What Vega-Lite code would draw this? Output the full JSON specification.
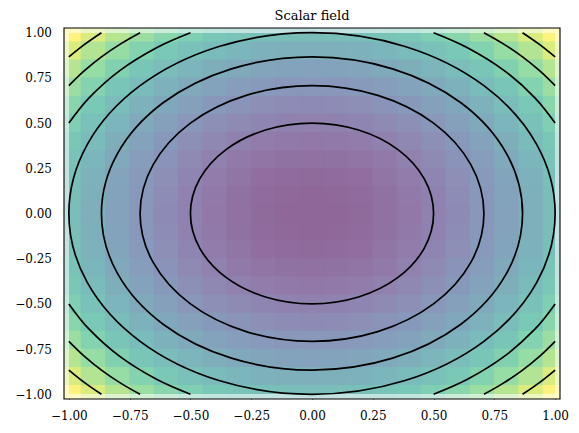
{
"$schema":"https://vega.github.io/schema/vega-lite/v6.json",
"autosize":{"type":"none"},
"padding":{"left":64,"top":28,"right":19,"bottom":34},
"width":496,"height":371,
"title":{"text":"Scalar field","font":"DejaVu Serif","fontSize":13,"fontWeight":"normal","color":"black","offset":3.5},
"config":{"view":{"stroke":null},
"axis":{"labelFont":"DejaVu Serif","labelFontSize":12,"labelColor":"black","tickColor":"black","domain":false,"grid":false,"labelFlush":false,"tickSize":-4,"title":null,"zindex":1},
"axisX":{"labelPadding":15.5},"axisY":{"labelPadding":16.5}},
"datasets":{
"grid":[
{"x":-1,"y":1,"v":2},{"x":-0.9,"y":1,"v":1.81},{"x":-0.8,"y":1,"v":1.64},{"x":-0.7,"y":1,"v":1.49},{"x":-0.6,"y":1,"v":1.36},{"x":-0.5,"y":1,"v":1.25},{"x":-0.4,"y":1,"v":1.16},{"x":-0.3,"y":1,"v":1.09},{"x":-0.2,"y":1,"v":1.04},{"x":-0.1,"y":1,"v":1.01},{"x":0,"y":1,"v":1},{"x":0.1,"y":1,"v":1.01},{"x":0.2,"y":1,"v":1.04},{"x":0.3,"y":1,"v":1.09},{"x":0.4,"y":1,"v":1.16},{"x":0.5,"y":1,"v":1.25},{"x":0.6,"y":1,"v":1.36},{"x":0.7,"y":1,"v":1.49},{"x":0.8,"y":1,"v":1.64},{"x":0.9,"y":1,"v":1.81},{"x":1,"y":1,"v":2},
{"x":-1,"y":0.9,"v":1.81},{"x":-0.9,"y":0.9,"v":1.62},{"x":-0.8,"y":0.9,"v":1.45},{"x":-0.7,"y":0.9,"v":1.3},{"x":-0.6,"y":0.9,"v":1.17},{"x":-0.5,"y":0.9,"v":1.06},{"x":-0.4,"y":0.9,"v":0.97},{"x":-0.3,"y":0.9,"v":0.9},{"x":-0.2,"y":0.9,"v":0.85},{"x":-0.1,"y":0.9,"v":0.82},{"x":0,"y":0.9,"v":0.81},{"x":0.1,"y":0.9,"v":0.82},{"x":0.2,"y":0.9,"v":0.85},{"x":0.3,"y":0.9,"v":0.9},{"x":0.4,"y":0.9,"v":0.97},{"x":0.5,"y":0.9,"v":1.06},{"x":0.6,"y":0.9,"v":1.17},{"x":0.7,"y":0.9,"v":1.3},{"x":0.8,"y":0.9,"v":1.45},{"x":0.9,"y":0.9,"v":1.62},{"x":1,"y":0.9,"v":1.81},
{"x":-1,"y":0.8,"v":1.64},{"x":-0.9,"y":0.8,"v":1.45},{"x":-0.8,"y":0.8,"v":1.28},{"x":-0.7,"y":0.8,"v":1.13},{"x":-0.6,"y":0.8,"v":1},{"x":-0.5,"y":0.8,"v":0.89},{"x":-0.4,"y":0.8,"v":0.8},{"x":-0.3,"y":0.8,"v":0.73},{"x":-0.2,"y":0.8,"v":0.68},{"x":-0.1,"y":0.8,"v":0.65},{"x":0,"y":0.8,"v":0.64},{"x":0.1,"y":0.8,"v":0.65},{"x":0.2,"y":0.8,"v":0.68},{"x":0.3,"y":0.8,"v":0.73},{"x":0.4,"y":0.8,"v":0.8},{"x":0.5,"y":0.8,"v":0.89},{"x":0.6,"y":0.8,"v":1},{"x":0.7,"y":0.8,"v":1.13},{"x":0.8,"y":0.8,"v":1.28},{"x":0.9,"y":0.8,"v":1.45},{"x":1,"y":0.8,"v":1.64},
{"x":-1,"y":0.7,"v":1.49},{"x":-0.9,"y":0.7,"v":1.3},{"x":-0.8,"y":0.7,"v":1.13},{"x":-0.7,"y":0.7,"v":0.98},{"x":-0.6,"y":0.7,"v":0.85},{"x":-0.5,"y":0.7,"v":0.74},{"x":-0.4,"y":0.7,"v":0.65},{"x":-0.3,"y":0.7,"v":0.58},{"x":-0.2,"y":0.7,"v":0.53},{"x":-0.1,"y":0.7,"v":0.5},{"x":0,"y":0.7,"v":0.49},{"x":0.1,"y":0.7,"v":0.5},{"x":0.2,"y":0.7,"v":0.53},{"x":0.3,"y":0.7,"v":0.58},{"x":0.4,"y":0.7,"v":0.65},{"x":0.5,"y":0.7,"v":0.74},{"x":0.6,"y":0.7,"v":0.85},{"x":0.7,"y":0.7,"v":0.98},{"x":0.8,"y":0.7,"v":1.13},{"x":0.9,"y":0.7,"v":1.3},{"x":1,"y":0.7,"v":1.49},
{"x":-1,"y":0.6,"v":1.36},{"x":-0.9,"y":0.6,"v":1.17},{"x":-0.8,"y":0.6,"v":1},{"x":-0.7,"y":0.6,"v":0.85},{"x":-0.6,"y":0.6,"v":0.72},{"x":-0.5,"y":0.6,"v":0.61},{"x":-0.4,"y":0.6,"v":0.52},{"x":-0.3,"y":0.6,"v":0.45},{"x":-0.2,"y":0.6,"v":0.4},{"x":-0.1,"y":0.6,"v":0.37},{"x":0,"y":0.6,"v":0.36},{"x":0.1,"y":0.6,"v":0.37},{"x":0.2,"y":0.6,"v":0.4},{"x":0.3,"y":0.6,"v":0.45},{"x":0.4,"y":0.6,"v":0.52},{"x":0.5,"y":0.6,"v":0.61},{"x":0.6,"y":0.6,"v":0.72},{"x":0.7,"y":0.6,"v":0.85},{"x":0.8,"y":0.6,"v":1},{"x":0.9,"y":0.6,"v":1.17},{"x":1,"y":0.6,"v":1.36},
{"x":-1,"y":0.5,"v":1.25},{"x":-0.9,"y":0.5,"v":1.06},{"x":-0.8,"y":0.5,"v":0.89},{"x":-0.7,"y":0.5,"v":0.74},{"x":-0.6,"y":0.5,"v":0.61},{"x":-0.5,"y":0.5,"v":0.5},{"x":-0.4,"y":0.5,"v":0.41},{"x":-0.3,"y":0.5,"v":0.34},{"x":-0.2,"y":0.5,"v":0.29},{"x":-0.1,"y":0.5,"v":0.26},{"x":0,"y":0.5,"v":0.25},{"x":0.1,"y":0.5,"v":0.26},{"x":0.2,"y":0.5,"v":0.29},{"x":0.3,"y":0.5,"v":0.34},{"x":0.4,"y":0.5,"v":0.41},{"x":0.5,"y":0.5,"v":0.5},{"x":0.6,"y":0.5,"v":0.61},{"x":0.7,"y":0.5,"v":0.74},{"x":0.8,"y":0.5,"v":0.89},{"x":0.9,"y":0.5,"v":1.06},{"x":1,"y":0.5,"v":1.25},
{"x":-1,"y":0.4,"v":1.16},{"x":-0.9,"y":0.4,"v":0.97},{"x":-0.8,"y":0.4,"v":0.8},{"x":-0.7,"y":0.4,"v":0.65},{"x":-0.6,"y":0.4,"v":0.52},{"x":-0.5,"y":0.4,"v":0.41},{"x":-0.4,"y":0.4,"v":0.32},{"x":-0.3,"y":0.4,"v":0.25},{"x":-0.2,"y":0.4,"v":0.2},{"x":-0.1,"y":0.4,"v":0.17},{"x":0,"y":0.4,"v":0.16},{"x":0.1,"y":0.4,"v":0.17},{"x":0.2,"y":0.4,"v":0.2},{"x":0.3,"y":0.4,"v":0.25},{"x":0.4,"y":0.4,"v":0.32},{"x":0.5,"y":0.4,"v":0.41},{"x":0.6,"y":0.4,"v":0.52},{"x":0.7,"y":0.4,"v":0.65},{"x":0.8,"y":0.4,"v":0.8},{"x":0.9,"y":0.4,"v":0.97},{"x":1,"y":0.4,"v":1.16},
{"x":-1,"y":0.3,"v":1.09},{"x":-0.9,"y":0.3,"v":0.9},{"x":-0.8,"y":0.3,"v":0.73},{"x":-0.7,"y":0.3,"v":0.58},{"x":-0.6,"y":0.3,"v":0.45},{"x":-0.5,"y":0.3,"v":0.34},{"x":-0.4,"y":0.3,"v":0.25},{"x":-0.3,"y":0.3,"v":0.18},{"x":-0.2,"y":0.3,"v":0.13},{"x":-0.1,"y":0.3,"v":0.1},{"x":0,"y":0.3,"v":0.09},{"x":0.1,"y":0.3,"v":0.1},{"x":0.2,"y":0.3,"v":0.13},{"x":0.3,"y":0.3,"v":0.18},{"x":0.4,"y":0.3,"v":0.25},{"x":0.5,"y":0.3,"v":0.34},{"x":0.6,"y":0.3,"v":0.45},{"x":0.7,"y":0.3,"v":0.58},{"x":0.8,"y":0.3,"v":0.73},{"x":0.9,"y":0.3,"v":0.9},{"x":1,"y":0.3,"v":1.09},
{"x":-1,"y":0.2,"v":1.04},{"x":-0.9,"y":0.2,"v":0.85},{"x":-0.8,"y":0.2,"v":0.68},{"x":-0.7,"y":0.2,"v":0.53},{"x":-0.6,"y":0.2,"v":0.4},{"x":-0.5,"y":0.2,"v":0.29},{"x":-0.4,"y":0.2,"v":0.2},{"x":-0.3,"y":0.2,"v":0.13},{"x":-0.2,"y":0.2,"v":0.08},{"x":-0.1,"y":0.2,"v":0.05},{"x":0,"y":0.2,"v":0.04},{"x":0.1,"y":0.2,"v":0.05},{"x":0.2,"y":0.2,"v":0.08},{"x":0.3,"y":0.2,"v":0.13},{"x":0.4,"y":0.2,"v":0.2},{"x":0.5,"y":0.2,"v":0.29},{"x":0.6,"y":0.2,"v":0.4},{"x":0.7,"y":0.2,"v":0.53},{"x":0.8,"y":0.2,"v":0.68},{"x":0.9,"y":0.2,"v":0.85},{"x":1,"y":0.2,"v":1.04},
{"x":-1,"y":0.1,"v":1.01},{"x":-0.9,"y":0.1,"v":0.82},{"x":-0.8,"y":0.1,"v":0.65},{"x":-0.7,"y":0.1,"v":0.5},{"x":-0.6,"y":0.1,"v":0.37},{"x":-0.5,"y":0.1,"v":0.26},{"x":-0.4,"y":0.1,"v":0.17},{"x":-0.3,"y":0.1,"v":0.1},{"x":-0.2,"y":0.1,"v":0.05},{"x":-0.1,"y":0.1,"v":0.02},{"x":0,"y":0.1,"v":0.01},{"x":0.1,"y":0.1,"v":0.02},{"x":0.2,"y":0.1,"v":0.05},{"x":0.3,"y":0.1,"v":0.1},{"x":0.4,"y":0.1,"v":0.17},{"x":0.5,"y":0.1,"v":0.26},{"x":0.6,"y":0.1,"v":0.37},{"x":0.7,"y":0.1,"v":0.5},{"x":0.8,"y":0.1,"v":0.65},{"x":0.9,"y":0.1,"v":0.82},{"x":1,"y":0.1,"v":1.01},
{"x":-1,"y":0,"v":1},{"x":-0.9,"y":0,"v":0.81},{"x":-0.8,"y":0,"v":0.64},{"x":-0.7,"y":0,"v":0.49},{"x":-0.6,"y":0,"v":0.36},{"x":-0.5,"y":0,"v":0.25},{"x":-0.4,"y":0,"v":0.16},{"x":-0.3,"y":0,"v":0.09},{"x":-0.2,"y":0,"v":0.04},{"x":-0.1,"y":0,"v":0.01},{"x":0,"y":0,"v":0},{"x":0.1,"y":0,"v":0.01},{"x":0.2,"y":0,"v":0.04},{"x":0.3,"y":0,"v":0.09},{"x":0.4,"y":0,"v":0.16},{"x":0.5,"y":0,"v":0.25},{"x":0.6,"y":0,"v":0.36},{"x":0.7,"y":0,"v":0.49},{"x":0.8,"y":0,"v":0.64},{"x":0.9,"y":0,"v":0.81},{"x":1,"y":0,"v":1},
{"x":-1,"y":-0.1,"v":1.01},{"x":-0.9,"y":-0.1,"v":0.82},{"x":-0.8,"y":-0.1,"v":0.65},{"x":-0.7,"y":-0.1,"v":0.5},{"x":-0.6,"y":-0.1,"v":0.37},{"x":-0.5,"y":-0.1,"v":0.26},{"x":-0.4,"y":-0.1,"v":0.17},{"x":-0.3,"y":-0.1,"v":0.1},{"x":-0.2,"y":-0.1,"v":0.05},{"x":-0.1,"y":-0.1,"v":0.02},{"x":0,"y":-0.1,"v":0.01},{"x":0.1,"y":-0.1,"v":0.02},{"x":0.2,"y":-0.1,"v":0.05},{"x":0.3,"y":-0.1,"v":0.1},{"x":0.4,"y":-0.1,"v":0.17},{"x":0.5,"y":-0.1,"v":0.26},{"x":0.6,"y":-0.1,"v":0.37},{"x":0.7,"y":-0.1,"v":0.5},{"x":0.8,"y":-0.1,"v":0.65},{"x":0.9,"y":-0.1,"v":0.82},{"x":1,"y":-0.1,"v":1.01},
{"x":-1,"y":-0.2,"v":1.04},{"x":-0.9,"y":-0.2,"v":0.85},{"x":-0.8,"y":-0.2,"v":0.68},{"x":-0.7,"y":-0.2,"v":0.53},{"x":-0.6,"y":-0.2,"v":0.4},{"x":-0.5,"y":-0.2,"v":0.29},{"x":-0.4,"y":-0.2,"v":0.2},{"x":-0.3,"y":-0.2,"v":0.13},{"x":-0.2,"y":-0.2,"v":0.08},{"x":-0.1,"y":-0.2,"v":0.05},{"x":0,"y":-0.2,"v":0.04},{"x":0.1,"y":-0.2,"v":0.05},{"x":0.2,"y":-0.2,"v":0.08},{"x":0.3,"y":-0.2,"v":0.13},{"x":0.4,"y":-0.2,"v":0.2},{"x":0.5,"y":-0.2,"v":0.29},{"x":0.6,"y":-0.2,"v":0.4},{"x":0.7,"y":-0.2,"v":0.53},{"x":0.8,"y":-0.2,"v":0.68},{"x":0.9,"y":-0.2,"v":0.85},{"x":1,"y":-0.2,"v":1.04},
{"x":-1,"y":-0.3,"v":1.09},{"x":-0.9,"y":-0.3,"v":0.9},{"x":-0.8,"y":-0.3,"v":0.73},{"x":-0.7,"y":-0.3,"v":0.58},{"x":-0.6,"y":-0.3,"v":0.45},{"x":-0.5,"y":-0.3,"v":0.34},{"x":-0.4,"y":-0.3,"v":0.25},{"x":-0.3,"y":-0.3,"v":0.18},{"x":-0.2,"y":-0.3,"v":0.13},{"x":-0.1,"y":-0.3,"v":0.1},{"x":0,"y":-0.3,"v":0.09},{"x":0.1,"y":-0.3,"v":0.1},{"x":0.2,"y":-0.3,"v":0.13},{"x":0.3,"y":-0.3,"v":0.18},{"x":0.4,"y":-0.3,"v":0.25},{"x":0.5,"y":-0.3,"v":0.34},{"x":0.6,"y":-0.3,"v":0.45},{"x":0.7,"y":-0.3,"v":0.58},{"x":0.8,"y":-0.3,"v":0.73},{"x":0.9,"y":-0.3,"v":0.9},{"x":1,"y":-0.3,"v":1.09},
{"x":-1,"y":-0.4,"v":1.16},{"x":-0.9,"y":-0.4,"v":0.97},{"x":-0.8,"y":-0.4,"v":0.8},{"x":-0.7,"y":-0.4,"v":0.65},{"x":-0.6,"y":-0.4,"v":0.52},{"x":-0.5,"y":-0.4,"v":0.41},{"x":-0.4,"y":-0.4,"v":0.32},{"x":-0.3,"y":-0.4,"v":0.25},{"x":-0.2,"y":-0.4,"v":0.2},{"x":-0.1,"y":-0.4,"v":0.17},{"x":0,"y":-0.4,"v":0.16},{"x":0.1,"y":-0.4,"v":0.17},{"x":0.2,"y":-0.4,"v":0.2},{"x":0.3,"y":-0.4,"v":0.25},{"x":0.4,"y":-0.4,"v":0.32},{"x":0.5,"y":-0.4,"v":0.41},{"x":0.6,"y":-0.4,"v":0.52},{"x":0.7,"y":-0.4,"v":0.65},{"x":0.8,"y":-0.4,"v":0.8},{"x":0.9,"y":-0.4,"v":0.97},{"x":1,"y":-0.4,"v":1.16},
{"x":-1,"y":-0.5,"v":1.25},{"x":-0.9,"y":-0.5,"v":1.06},{"x":-0.8,"y":-0.5,"v":0.89},{"x":-0.7,"y":-0.5,"v":0.74},{"x":-0.6,"y":-0.5,"v":0.61},{"x":-0.5,"y":-0.5,"v":0.5},{"x":-0.4,"y":-0.5,"v":0.41},{"x":-0.3,"y":-0.5,"v":0.34},{"x":-0.2,"y":-0.5,"v":0.29},{"x":-0.1,"y":-0.5,"v":0.26},{"x":0,"y":-0.5,"v":0.25},{"x":0.1,"y":-0.5,"v":0.26},{"x":0.2,"y":-0.5,"v":0.29},{"x":0.3,"y":-0.5,"v":0.34},{"x":0.4,"y":-0.5,"v":0.41},{"x":0.5,"y":-0.5,"v":0.5},{"x":0.6,"y":-0.5,"v":0.61},{"x":0.7,"y":-0.5,"v":0.74},{"x":0.8,"y":-0.5,"v":0.89},{"x":0.9,"y":-0.5,"v":1.06},{"x":1,"y":-0.5,"v":1.25},
{"x":-1,"y":-0.6,"v":1.36},{"x":-0.9,"y":-0.6,"v":1.17},{"x":-0.8,"y":-0.6,"v":1},{"x":-0.7,"y":-0.6,"v":0.85},{"x":-0.6,"y":-0.6,"v":0.72},{"x":-0.5,"y":-0.6,"v":0.61},{"x":-0.4,"y":-0.6,"v":0.52},{"x":-0.3,"y":-0.6,"v":0.45},{"x":-0.2,"y":-0.6,"v":0.4},{"x":-0.1,"y":-0.6,"v":0.37},{"x":0,"y":-0.6,"v":0.36},{"x":0.1,"y":-0.6,"v":0.37},{"x":0.2,"y":-0.6,"v":0.4},{"x":0.3,"y":-0.6,"v":0.45},{"x":0.4,"y":-0.6,"v":0.52},{"x":0.5,"y":-0.6,"v":0.61},{"x":0.6,"y":-0.6,"v":0.72},{"x":0.7,"y":-0.6,"v":0.85},{"x":0.8,"y":-0.6,"v":1},{"x":0.9,"y":-0.6,"v":1.17},{"x":1,"y":-0.6,"v":1.36},
{"x":-1,"y":-0.7,"v":1.49},{"x":-0.9,"y":-0.7,"v":1.3},{"x":-0.8,"y":-0.7,"v":1.13},{"x":-0.7,"y":-0.7,"v":0.98},{"x":-0.6,"y":-0.7,"v":0.85},{"x":-0.5,"y":-0.7,"v":0.74},{"x":-0.4,"y":-0.7,"v":0.65},{"x":-0.3,"y":-0.7,"v":0.58},{"x":-0.2,"y":-0.7,"v":0.53},{"x":-0.1,"y":-0.7,"v":0.5},{"x":0,"y":-0.7,"v":0.49},{"x":0.1,"y":-0.7,"v":0.5},{"x":0.2,"y":-0.7,"v":0.53},{"x":0.3,"y":-0.7,"v":0.58},{"x":0.4,"y":-0.7,"v":0.65},{"x":0.5,"y":-0.7,"v":0.74},{"x":0.6,"y":-0.7,"v":0.85},{"x":0.7,"y":-0.7,"v":0.98},{"x":0.8,"y":-0.7,"v":1.13},{"x":0.9,"y":-0.7,"v":1.3},{"x":1,"y":-0.7,"v":1.49},
{"x":-1,"y":-0.8,"v":1.64},{"x":-0.9,"y":-0.8,"v":1.45},{"x":-0.8,"y":-0.8,"v":1.28},{"x":-0.7,"y":-0.8,"v":1.13},{"x":-0.6,"y":-0.8,"v":1},{"x":-0.5,"y":-0.8,"v":0.89},{"x":-0.4,"y":-0.8,"v":0.8},{"x":-0.3,"y":-0.8,"v":0.73},{"x":-0.2,"y":-0.8,"v":0.68},{"x":-0.1,"y":-0.8,"v":0.65},{"x":0,"y":-0.8,"v":0.64},{"x":0.1,"y":-0.8,"v":0.65},{"x":0.2,"y":-0.8,"v":0.68},{"x":0.3,"y":-0.8,"v":0.73},{"x":0.4,"y":-0.8,"v":0.8},{"x":0.5,"y":-0.8,"v":0.89},{"x":0.6,"y":-0.8,"v":1},{"x":0.7,"y":-0.8,"v":1.13},{"x":0.8,"y":-0.8,"v":1.28},{"x":0.9,"y":-0.8,"v":1.45},{"x":1,"y":-0.8,"v":1.64},
{"x":-1,"y":-0.9,"v":1.81},{"x":-0.9,"y":-0.9,"v":1.62},{"x":-0.8,"y":-0.9,"v":1.45},{"x":-0.7,"y":-0.9,"v":1.3},{"x":-0.6,"y":-0.9,"v":1.17},{"x":-0.5,"y":-0.9,"v":1.06},{"x":-0.4,"y":-0.9,"v":0.97},{"x":-0.3,"y":-0.9,"v":0.9},{"x":-0.2,"y":-0.9,"v":0.85},{"x":-0.1,"y":-0.9,"v":0.82},{"x":0,"y":-0.9,"v":0.81},{"x":0.1,"y":-0.9,"v":0.82},{"x":0.2,"y":-0.9,"v":0.85},{"x":0.3,"y":-0.9,"v":0.9},{"x":0.4,"y":-0.9,"v":0.97},{"x":0.5,"y":-0.9,"v":1.06},{"x":0.6,"y":-0.9,"v":1.17},{"x":0.7,"y":-0.9,"v":1.3},{"x":0.8,"y":-0.9,"v":1.45},{"x":0.9,"y":-0.9,"v":1.62},{"x":1,"y":-0.9,"v":1.81},
{"x":-1,"y":-1,"v":2},{"x":-0.9,"y":-1,"v":1.81},{"x":-0.8,"y":-1,"v":1.64},{"x":-0.7,"y":-1,"v":1.49},{"x":-0.6,"y":-1,"v":1.36},{"x":-0.5,"y":-1,"v":1.25},{"x":-0.4,"y":-1,"v":1.16},{"x":-0.3,"y":-1,"v":1.09},{"x":-0.2,"y":-1,"v":1.04},{"x":-0.1,"y":-1,"v":1.01},{"x":0,"y":-1,"v":1},{"x":0.1,"y":-1,"v":1.01},{"x":0.2,"y":-1,"v":1.04},{"x":0.3,"y":-1,"v":1.09},{"x":0.4,"y":-1,"v":1.16},{"x":0.5,"y":-1,"v":1.25},{"x":0.6,"y":-1,"v":1.36},{"x":0.7,"y":-1,"v":1.49},{"x":0.8,"y":-1,"v":1.64},{"x":0.9,"y":-1,"v":1.81},{"x":1,"y":-1,"v":2}
],
"circles":[
{"g":"a","i":0,"x":0.5,"y":0},{"g":"a","i":1,"x":0.4619,"y":0.1913},{"g":"a","i":2,"x":0.3536,"y":0.3536},{"g":"a","i":3,"x":0.1913,"y":0.4619},{"g":"a","i":4,"x":0,"y":0.5},{"g":"a","i":5,"x":-0.1913,"y":0.4619},{"g":"a","i":6,"x":-0.3536,"y":0.3536},{"g":"a","i":7,"x":-0.4619,"y":0.1913},{"g":"a","i":8,"x":-0.5,"y":0},{"g":"a","i":9,"x":-0.4619,"y":-0.1913},{"g":"a","i":10,"x":-0.3536,"y":-0.3536},{"g":"a","i":11,"x":-0.1913,"y":-0.4619},{"g":"a","i":12,"x":0,"y":-0.5},{"g":"a","i":13,"x":0.1913,"y":-0.4619},{"g":"a","i":14,"x":0.3536,"y":-0.3536},{"g":"a","i":15,"x":0.4619,"y":-0.1913},
{"g":"b","i":0,"x":0.7071,"y":0},{"g":"b","i":1,"x":0.6533,"y":0.2706},{"g":"b","i":2,"x":0.5,"y":0.5},{"g":"b","i":3,"x":0.2706,"y":0.6533},{"g":"b","i":4,"x":0,"y":0.7071},{"g":"b","i":5,"x":-0.2706,"y":0.6533},{"g":"b","i":6,"x":-0.5,"y":0.5},{"g":"b","i":7,"x":-0.6533,"y":0.2706},{"g":"b","i":8,"x":-0.7071,"y":0},{"g":"b","i":9,"x":-0.6533,"y":-0.2706},{"g":"b","i":10,"x":-0.5,"y":-0.5},{"g":"b","i":11,"x":-0.2706,"y":-0.6533},{"g":"b","i":12,"x":0,"y":-0.7071},{"g":"b","i":13,"x":0.2706,"y":-0.6533},{"g":"b","i":14,"x":0.5,"y":-0.5},{"g":"b","i":15,"x":0.6533,"y":-0.2706},
{"g":"c","i":0,"x":0.866,"y":0},{"g":"c","i":1,"x":0.8001,"y":0.3314},{"g":"c","i":2,"x":0.6124,"y":0.6124},{"g":"c","i":3,"x":0.3314,"y":0.8001},{"g":"c","i":4,"x":0,"y":0.866},{"g":"c","i":5,"x":-0.3314,"y":0.8001},{"g":"c","i":6,"x":-0.6124,"y":0.6124},{"g":"c","i":7,"x":-0.8001,"y":0.3314},{"g":"c","i":8,"x":-0.866,"y":0},{"g":"c","i":9,"x":-0.8001,"y":-0.3314},{"g":"c","i":10,"x":-0.6124,"y":-0.6124},{"g":"c","i":11,"x":-0.3314,"y":-0.8001},{"g":"c","i":12,"x":0,"y":-0.866},{"g":"c","i":13,"x":0.3314,"y":-0.8001},{"g":"c","i":14,"x":0.6124,"y":-0.6124},{"g":"c","i":15,"x":0.8001,"y":-0.3314},
{"g":"d","i":0,"x":1,"y":0},{"g":"d","i":1,"x":0.9239,"y":0.3827},{"g":"d","i":2,"x":0.7071,"y":0.7071},{"g":"d","i":3,"x":0.3827,"y":0.9239},{"g":"d","i":4,"x":0,"y":1},{"g":"d","i":5,"x":-0.3827,"y":0.9239},{"g":"d","i":6,"x":-0.7071,"y":0.7071},{"g":"d","i":7,"x":-0.9239,"y":0.3827},{"g":"d","i":8,"x":-1,"y":0},{"g":"d","i":9,"x":-0.9239,"y":-0.3827},{"g":"d","i":10,"x":-0.7071,"y":-0.7071},{"g":"d","i":11,"x":-0.3827,"y":-0.9239},{"g":"d","i":12,"x":0,"y":-1},{"g":"d","i":13,"x":0.3827,"y":-0.9239},{"g":"d","i":14,"x":0.7071,"y":-0.7071},{"g":"d","i":15,"x":0.9239,"y":-0.3827}
],
"arcs":[
{"g":"e1","i":0,"x":1,"y":0.5},{"g":"e1","i":1,"x":0.9158,"y":0.6413},{"g":"e1","i":2,"x":0.7906,"y":0.7906},{"g":"e1","i":3,"x":0.6413,"y":0.9158},{"g":"e1","i":4,"x":0.5,"y":1},
{"g":"e2","i":0,"x":-1,"y":0.5},{"g":"e2","i":1,"x":-0.9158,"y":0.6413},{"g":"e2","i":2,"x":-0.7906,"y":0.7906},{"g":"e2","i":3,"x":-0.6413,"y":0.9158},{"g":"e2","i":4,"x":-0.5,"y":1},
{"g":"e3","i":0,"x":-1,"y":-0.5},{"g":"e3","i":1,"x":-0.9158,"y":-0.6413},{"g":"e3","i":2,"x":-0.7906,"y":-0.7906},{"g":"e3","i":3,"x":-0.6413,"y":-0.9158},{"g":"e3","i":4,"x":-0.5,"y":-1},
{"g":"e4","i":0,"x":1,"y":-0.5},{"g":"e4","i":1,"x":0.9158,"y":-0.6413},{"g":"e4","i":2,"x":0.7906,"y":-0.7906},{"g":"e4","i":3,"x":0.6413,"y":-0.9158},{"g":"e4","i":4,"x":0.5,"y":-1},
{"g":"f1","i":0,"x":1,"y":0.7071},{"g":"f1","i":1,"x":0.9382,"y":0.7872},{"g":"f1","i":2,"x":0.866,"y":0.866},{"g":"f1","i":3,"x":0.7872,"y":0.9382},{"g":"f1","i":4,"x":0.7071,"y":1},
{"g":"f2","i":0,"x":-1,"y":0.7071},{"g":"f2","i":1,"x":-0.9382,"y":0.7872},{"g":"f2","i":2,"x":-0.866,"y":0.866},{"g":"f2","i":3,"x":-0.7872,"y":0.9382},{"g":"f2","i":4,"x":-0.7071,"y":1},
{"g":"f3","i":0,"x":-1,"y":-0.7071},{"g":"f3","i":1,"x":-0.9382,"y":-0.7872},{"g":"f3","i":2,"x":-0.866,"y":-0.866},{"g":"f3","i":3,"x":-0.7872,"y":-0.9382},{"g":"f3","i":4,"x":-0.7071,"y":-1},
{"g":"f4","i":0,"x":1,"y":-0.7071},{"g":"f4","i":1,"x":0.9382,"y":-0.7872},{"g":"f4","i":2,"x":0.866,"y":-0.866},{"g":"f4","i":3,"x":0.7872,"y":-0.9382},{"g":"f4","i":4,"x":0.7071,"y":-1},
{"g":"h1","i":0,"x":1,"y":0.866},{"g":"h1","i":1,"x":0.9354,"y":0.9354},{"g":"h1","i":2,"x":0.866,"y":1},
{"g":"h2","i":0,"x":-1,"y":0.866},{"g":"h2","i":1,"x":-0.9354,"y":0.9354},{"g":"h2","i":2,"x":-0.866,"y":1},
{"g":"h3","i":0,"x":-1,"y":-0.866},{"g":"h3","i":1,"x":-0.9354,"y":-0.9354},{"g":"h3","i":2,"x":-0.866,"y":-1},
{"g":"h4","i":0,"x":1,"y":-0.866},{"g":"h4","i":1,"x":0.9354,"y":-0.9354},{"g":"h4","i":2,"x":0.866,"y":-1}
],
"edge":[{"x":-1.02,"x2":1.02,"y":-1.026,"y2":1.026}]
},
"layer":[
{"data":{"name":"grid"},
"mark":{"type":"rect","clip":true,"binSpacing":0,"strokeWidth":1.6},
"encoding":{
"x":{"field":"x","type":"quantitative","bin":{"step":0.1,"extent":[-1.05,1.05],"nice":false},"scale":{"domain":[-1.02,1.02],"nice":false,"zero":false},"axis":{"values":[-1,-0.75,-0.5,-0.25,0,0.25,0.5,0.75,1],"format":".2f"}},
"y":{"field":"y","type":"quantitative","bin":{"step":0.1,"extent":[-1.05,1.05],"nice":false},"scale":{"domain":[-1.026,1.026],"nice":false,"zero":false},"axis":{"values":[-1,-0.75,-0.5,-0.25,0,0.25,0.5,0.75,1],"format":".2f"}},
"color":{"field":"v","type":"quantitative","legend":null,"scale":{"domain":[0,0.2,0.4,0.6,0.8,1,1.2,1.4,1.6,1.8,2],"range":["#8f6798","#917cac","#8d8fb7","#869fbb","#7faebb","#7abdba","#7acbb5","#8fd9a9","#afe397","#d7ec7d","#fef17c"]}},
"stroke":{"field":"v","type":"quantitative","legend":null,"scale":{"domain":[0,0.2,0.4,0.6,0.8,1,1.2,1.4,1.6,1.8,2],"range":["#8f6798","#917cac","#8d8fb7","#869fbb","#7faebb","#7abdba","#7acbb5","#8fd9a9","#afe397","#d7ec7d","#fef17c"]}}
}},
{"data":{"name":"edge"},
"mark":{"type":"rect","clip":true,"fill":"transparent","stroke":"white","strokeWidth":10,"strokeOpacity":0.55},
"encoding":{
"x":{"field":"x","type":"quantitative","axis":{"values":[-1,-0.75,-0.5,-0.25,0,0.25,0.5,0.75,1],"format":".2f"}},"x2":{"field":"x2"},
"y":{"field":"y","type":"quantitative","axis":{"values":[-1,-0.75,-0.5,-0.25,0,0.25,0.5,0.75,1],"format":".2f"}},"y2":{"field":"y2"}
}},
{"data":{"name":"circles"},
"mark":{"type":"line","interpolate":"cardinal-closed","color":"black","strokeWidth":1.7,"clip":true},
"encoding":{
"x":{"field":"x","type":"quantitative","axis":{"values":[-1,-0.75,-0.5,-0.25,0,0.25,0.5,0.75,1],"format":".2f"}},
"y":{"field":"y","type":"quantitative","axis":{"values":[-1,-0.75,-0.5,-0.25,0,0.25,0.5,0.75,1],"format":".2f"}},
"detail":{"field":"g"},
"order":{"field":"i","type":"quantitative"}
}},
{"data":{"name":"arcs"},
"mark":{"type":"line","interpolate":"cardinal","color":"black","strokeWidth":1.7,"clip":true},
"encoding":{
"x":{"field":"x","type":"quantitative","axis":{"values":[-1,-0.75,-0.5,-0.25,0,0.25,0.5,0.75,1],"format":".2f"}},
"y":{"field":"y","type":"quantitative","axis":{"values":[-1,-0.75,-0.5,-0.25,0,0.25,0.5,0.75,1],"format":".2f"}},
"detail":{"field":"g"},
"order":{"field":"i","type":"quantitative"}
}},
{"data":{"name":"edge"},
"mark":{"type":"rect","fill":"transparent","stroke":"black","strokeWidth":1.1},
"encoding":{
"x":{"field":"x","type":"quantitative","axis":{"values":[-1,-0.75,-0.5,-0.25,0,0.25,0.5,0.75,1],"format":".2f"}},"x2":{"field":"x2"},
"y":{"field":"y","type":"quantitative","axis":{"values":[-1,-0.75,-0.5,-0.25,0,0.25,0.5,0.75,1],"format":".2f"}},"y2":{"field":"y2"}
}}
]
}
